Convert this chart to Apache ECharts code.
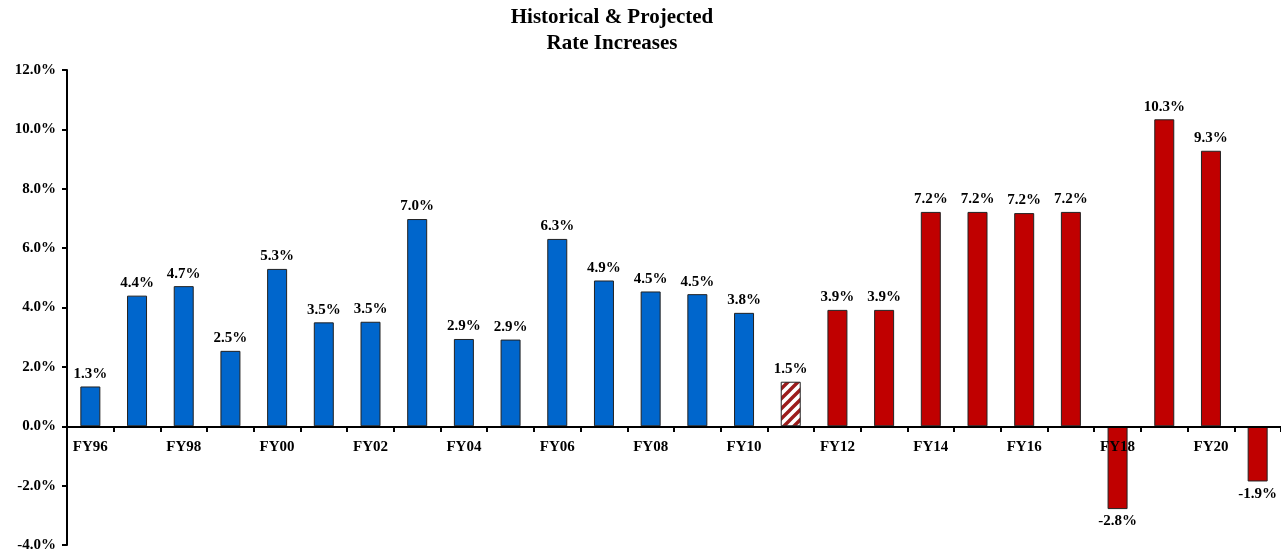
<!DOCTYPE html>
<html>
<head>
<meta charset="utf-8">
<script src="https://cdn.jsdelivr.net/npm/echarts@6/dist/echarts.min.js"></script>
<style>html,body{margin:0;padding:0;background:#fff}#c{width:1281px;height:554px}</style>
</head>
<body>
<div id="c"></div>
<script>
const categories = ['FY96','FY97','FY98','FY99','FY00','FY01','FY02','FY03','FY04','FY05','FY06','FY07','FY08','FY09','FY10','FY11','FY12','FY13','FY14','FY15','FY16','FY17','FY18','FY19','FY20','FY21'];
const values = [1.34,4.4,4.72,2.54,5.3,3.5,3.52,6.98,2.94,2.92,6.31,4.91,4.54,4.45,3.82,1.5,3.92,3.92,7.22,7.22,7.18,7.22,-2.79,10.34,9.28,-1.86];
const kinds = ['h','h','h','h','h','h','h','h','h','h','h','h','h','h','h','x','p','p','p','p','p','p','p','p','p','p'];
const yTicks = {min:-4, max:12, interval:2};

const FONT = '"Liberation Serif","Times New Roman",serif';

function hatch(){
  const c = document.createElement('canvas');
  c.width = 10; c.height = 10;
  const g = c.getContext('2d');
  g.fillStyle = '#fff'; g.fillRect(0,0,10,10);
  g.strokeStyle = '#9b1c1c'; g.lineWidth = 3.4;
  g.beginPath();
  g.moveTo(-3,13); g.lineTo(13,-3);
  g.moveTo(-8,8); g.lineTo(8,-8);
  g.moveTo(2,18); g.lineTo(18,2);
  g.stroke();
  return c;
}
const hatchImg = hatch();

const colorFor = k => k==='h' ? '#0066CC' : (k==='p' ? '#C00000' : {image: hatchImg, repeat:'repeat'});

const data = values.map((v,i)=>({
  value: v,
  itemStyle: {color: colorFor(kinds[i]), borderColor:'#222', borderWidth:1},
  label: {position: v<0 ? 'bottom' : 'top'}
}));

const chart = echarts.init(document.getElementById('c'));
chart.setOption({
  animation:false,
  title:{
    text:'Historical & Projected\nRate Increases',
    left:607, top:0, textAlign:'center',
    textStyle:{fontFamily:FONT, fontWeight:'bold', fontSize:21, color:'#000', lineHeight:26}
  },
  grid:{left:67, right:0, top:70, bottom:9, containLabel:false, outerBoundsMode:'none'},
  xAxis:{
    type:'category', data:categories, z:10, position:'bottom', offset:-118,
    axisLine:{onZero:false, lineStyle:{color:'#000', width:2}},
    axisTick:{show:true, interval:0, length:5, lineStyle:{color:'#000', width:2}},
    axisLabel:{interval:1, margin:13, color:'#000', fontFamily:FONT, fontWeight:'bold', fontSize:15},
    splitLine:{show:false}
  },
  yAxis:{
    type:'value', min:yTicks.min, max:yTicks.max, interval:yTicks.interval,
    axisLine:{show:true, lineStyle:{color:'#000', width:2}},
    axisTick:{show:true, length:5, lineStyle:{color:'#000', width:2}},
    axisLabel:{margin:11, color:'#000', fontFamily:FONT, fontWeight:'bold', fontSize:15,
      formatter:v=>v.toFixed(1)+'%'},
    splitLine:{show:false}
  },
  series:[{
    type:'bar', data:data, barWidth:20,
    label:{show:true, distance:5, color:'#000', fontFamily:FONT, fontWeight:'bold', fontSize:15,
      formatter:p=>p.value.toFixed(1)+'%'}
  }]
});
</script>
</body>
</html>
